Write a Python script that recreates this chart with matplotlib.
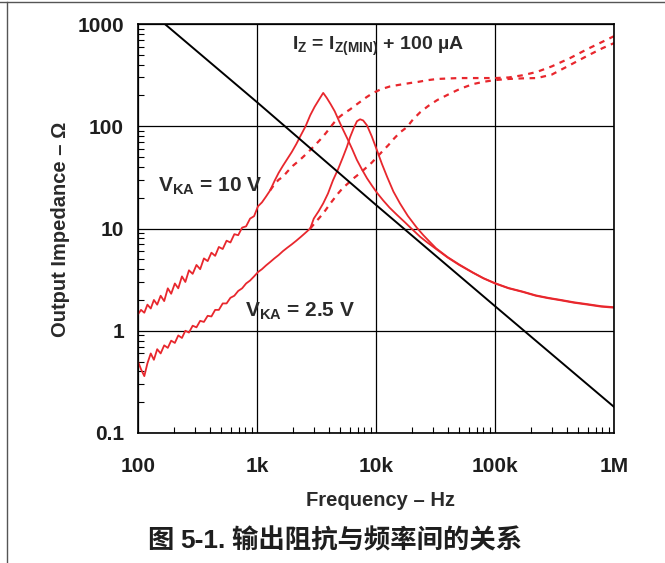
import matplotlib
matplotlib.use("Agg")
import matplotlib.pyplot as plt
from matplotlib.lines import Line2D
from matplotlib.ticker import LogLocator, NullFormatter
from matplotlib.offsetbox import TextArea, HPacker, AnchoredOffsetbox

plt.rcParams['font.family'] = ['Liberation Sans', 'DejaVu Sans']
plt.rcParams['mathtext.fontset'] = 'custom'
plt.rcParams['mathtext.rm'] = 'Liberation Sans:bold'
plt.rcParams['mathtext.it'] = 'Liberation Sans:bold'
plt.rcParams['mathtext.bf'] = 'Liberation Sans:bold'

# ---- datos (Hz, ohm) ----
# linea negra (capacitiva)
f_cap = [168, 1000, 10000, 100000, 1000000]
z_cap = [1000, 172, 17.0, 1.74, 0.18]

# frecuencias comunes de la parte baja (ruidosa)
f_low = [100, 106, 113, 120, 128, 136, 145, 155, 166, 178, 190, 204, 218, 234,
         250, 268, 288, 310, 333, 358, 385, 414, 445, 478, 515, 555, 598, 645,
         695, 750, 810, 875, 945, 1020, 1100, 1190, 1290, 1400, 1520, 1650,
         1800, 1960, 2140, 2340, 2560, 2800]

# cola comun a alta frecuencia
f_tail = [32000, 40000, 50000, 65000, 80000, 100000, 130000, 170000, 220000,
          280000, 360000, 460000, 600000, 780000, 1000000]

# V_KA = 10 V, trazo continuo
z10_low = [1.45, 1.6, 1.5, 1.8, 1.65, 2.0, 1.8, 2.2, 1.95, 2.6, 2.3, 2.9, 2.6, 3.4,
           3.0, 3.9, 3.6, 4.4, 4.0, 5.1, 4.8, 5.8, 5.4, 6.6, 6.3, 7.6, 7.3, 8.8,
           8.6, 10.2, 10.5, 12.5, 13.2, 16.5, 18.0, 20.5, 23.6, 29, 35, 41,
           48, 56, 67, 82, 100, 128]
f10_mid = [3050, 3300, 3600, 3850, 4150, 4500, 4900, 5300, 5800, 6300, 6900,
           7600, 8400, 9300, 10300, 11500, 13000, 15000, 17500, 20000, 23500, 27000]
z10_mid = [155, 180, 212, 190, 165, 140, 112, 92, 74, 60, 47,
           38, 31, 26, 22, 18.8, 16, 13.6, 11.5, 9.9, 8.3, 7.3]
z10_tail = [6.3, 5.2, 4.4, 3.7, 3.25, 2.9, 2.6, 2.4, 2.2, 2.08, 1.98, 1.88, 1.8, 1.72, 1.68]

# V_KA = 2.5 V, trazo continuo
z25_low = [0.5, 0.42, 0.36, 0.48, 0.6, 0.52, 0.66, 0.6, 0.72, 0.68, 0.8, 0.76, 0.9, 0.85,
           1.0, 0.96, 1.12, 1.08, 1.25, 1.22, 1.4, 1.38, 1.6, 1.6, 1.85, 1.85, 2.1, 2.2,
           2.45, 2.6, 2.9, 3.1, 3.4, 3.75, 4.0, 4.35, 4.7, 5.1, 5.5, 6.0,
           6.5, 7.0, 7.6, 8.3, 9.1, 10.0]
f25_mid = [3000, 3300, 3600, 3950, 4350, 4800, 5280, 5700, 6050, 6500, 6920, 7350,
           7800, 8400, 9200, 10200, 11200, 12400, 14000, 15900, 18500, 22000, 25000, 28000]
z25_mid = [12.5, 14.8, 17.6, 22, 29.6, 38, 50, 63, 78, 96, 112, 117,
           114, 102, 80, 58, 43, 32, 23, 17.6, 13.3, 10.2, 8.6, 7.5]
z25_tail = [6.4, 5.25, 4.45, 3.72, 3.27, 2.92, 2.62, 2.42, 2.22, 2.1, 2.0, 1.9, 1.82, 1.74, 1.7]

# trazos discontinuos
fd10 = [1290, 1400, 1520, 1650, 1800, 2000, 2300, 2700, 3100, 3400, 3800, 4200, 4700,
        5300, 6050, 6700, 7300, 8300, 9400, 11000, 13100, 15000, 16900, 19500, 22000,
        27000, 32600, 40000, 50000, 61600, 80000, 100000, 130000, 170000, 225000,
        300000, 427000, 600000, 800000, 1000000]
zd10 = [23.6, 27, 30, 32, 36, 41, 47, 56, 66, 74, 86, 100, 118,
        132, 146, 160, 172, 192, 211, 230, 245, 252, 258, 265, 270,
        282, 290, 293, 296, 296, 296, 296, 300, 315, 340,
        385, 464, 570, 670, 760]
fd25 = [2800, 3200, 3590, 4200, 4800, 5280, 6000, 6600, 7300, 8300, 9200, 10200,
        11500, 12800, 13900, 15900, 18200, 20500, 23500, 27500, 32600, 40000, 48000,
        56000, 65000, 80000, 100000, 130000, 170000, 225000, 300000, 427000, 600000,
        800000, 1000000]
zd25 = [10, 12, 14, 18, 22, 25, 28.5, 31.5, 34.6, 39.5, 44, 50,
        58, 66, 74, 87, 98, 117, 137, 158, 180, 203, 225,
        242, 258, 272, 283, 290, 294, 296, 320, 397, 490,
        580, 650]

x_ticks = [100, 1000, 10000, 100000, 1000000]
x_labels = ["100", "1k", "10k", "100k", "1M"]
y_ticks = [0.1, 1, 10, 100, 1000]
y_labels = ["0.1", "1", "10", "100", "1000"]

RED = "#e8272d"
TXT = "#1e1e1e"

fig = plt.figure(figsize=(6.65, 5.63), dpi=100)
ax = fig.add_axes([138/665, 1-433/563, 476/665, 409/563])

ax.plot(f_low + f10_mid + f_tail, z10_low + z10_mid + z10_tail, color=RED, lw=1.3)
ax.plot(f_low + f25_mid + f_tail, z25_low + z25_mid + z25_tail, color=RED, lw=1.3)
ax.plot(fd10, zd10, color=RED, lw=1.6, ls=(0, (2.5, 2.5)))
ax.plot(fd25, zd25, color=RED, lw=1.6, ls=(0, (2.5, 2.5)))
ax.plot(f_cap, z_cap, color="black", lw=1.4)

ax.set_xscale("log")
ax.set_yscale("log")
ax.set_xlim(100, 1e6)
ax.set_ylim(0.1, 1000)

ax.set_xticks(x_ticks, x_labels)
ax.set_yticks(y_ticks, y_labels)
ax.xaxis.set_minor_locator(LogLocator(base=10, subs=range(2, 10), numticks=20))
ax.yaxis.set_minor_locator(LogLocator(base=10, subs=range(2, 10), numticks=20))
ax.xaxis.set_minor_formatter(NullFormatter())
ax.yaxis.set_minor_formatter(NullFormatter())
ax.tick_params(which="major", length=0, labelsize=15, colors=TXT)
ax.tick_params(axis="x", which="major", pad=17)
ax.tick_params(axis="y", which="major", pad=10)
ax.tick_params(which="minor", direction="in", length=4, width=0.8)
for lab in ax.get_xticklabels() + ax.get_yticklabels():
    lab.set_fontweight("bold")

ax.grid(True, which="major", color="black", lw=0.9)
for s in ax.spines.values():
    s.set_linewidth(1.2)

ax.text(0.504, 0.936, r"I$_{\mathrm{Z}}$ = I$_{\mathrm{Z(MIN)}}$ + 100 µA", transform=ax.transAxes,
        ha="center", va="baseline", fontsize=14, fontweight="bold", color="#2a2a2a")
ax.text(0.042, 0.59, r"V$_{\mathrm{KA}}$ = 10 V", transform=ax.transAxes,
        ha="left", va="baseline", fontsize=15, fontweight="bold", color="#2a2a2a")
ax.text(0.225, 0.284, r"V$_{\mathrm{KA}}$ = 2.5 V", transform=ax.transAxes,
        ha="left", va="baseline", fontsize=15, fontweight="bold", color="#2a2a2a")

fig.text(381/665, 1-500/563, "Frequency – Hz", ha="center", va="center",
         fontsize=14.5, fontweight="bold", color="#2a2a2a")
fig.text(60/665, 1-229/563, "Output Impedance – Ω", ha="center", va="center",
         rotation=90, fontsize=14.5, fontweight="bold", color="#2a2a2a")

# pie de figura
cap = HPacker(children=[
    TextArea("图 ", textprops=dict(family="Noto Sans CJK SC", size=19, weight="bold", color=TXT)),
    TextArea("5-1.", textprops=dict(family="Liberation Sans", size=19, weight="bold", color=TXT)),
    TextArea(" 输出阻抗与频率间的关系", textprops=dict(family="Noto Sans CJK SC", size=19,
                                                 weight="bold", color=TXT)),
], align="baseline", pad=0, sep=0)
fig.add_artist(AnchoredOffsetbox(loc="center", child=cap, frameon=False, pad=0, borderpad=0,
                                 bbox_to_anchor=(335/665, 1-541/563),
                                 bbox_transform=fig.transFigure))

# marco de la pagina
fig.add_artist(Line2D([0, 1], [1-2/563, 1-2/563], transform=fig.transFigure, color="#555555", lw=1))
fig.add_artist(Line2D([7/665, 7/665], [0, 1-2/563], transform=fig.transFigure, color="#555555", lw=1))

fig.savefig("out.png", dpi=100)
